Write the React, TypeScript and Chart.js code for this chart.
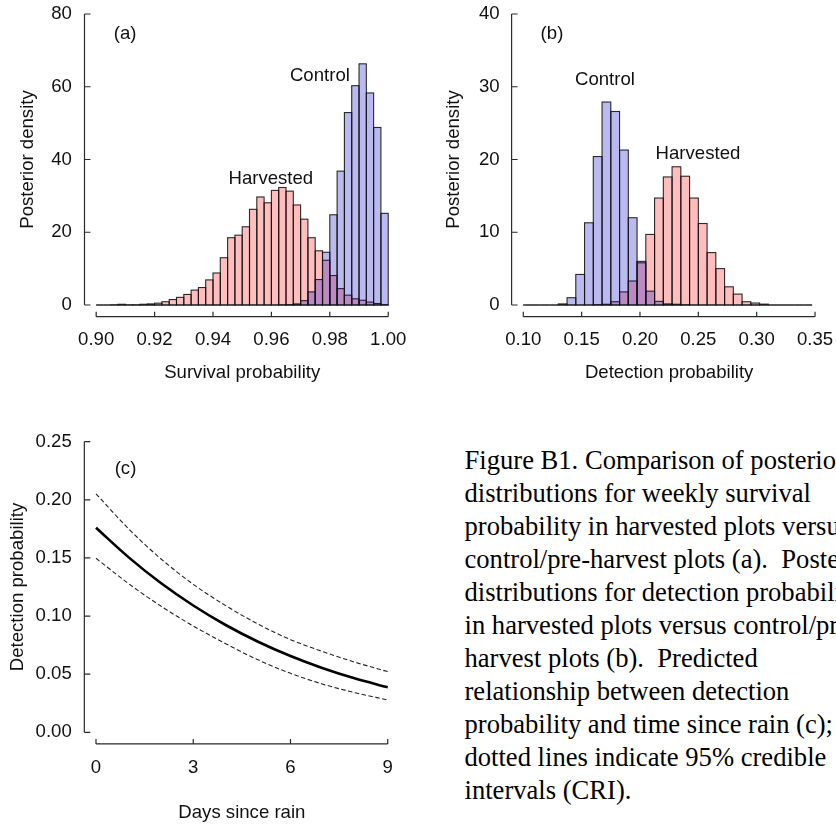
import React, { useEffect, useRef } from 'react';
import { Chart, registerables } from 'chart.js';

Chart.register(...registerables);

// ---------- Panel (a): weekly survival probability (histogram densities) ----------
const SURV_BIN_START = 0.9;
const SURV_BIN_WIDTH = 0.0025;
const SURV_CONTROL = [
  0, 0, 0, 0, 0, 0, 0, 0, 0, 0,
  0, 0, 0, 0, 0, 0, 0, 0, 0, 0,
  0, 0, 0, 0, 0, 0.05, 0.1, 0.3, 1.2, 3.6,
  7.0, 14.5, 24.8, 36.8, 52.9, 60.3, 66.3, 58.3, 48.8, 25.2,
];
const SURV_HARVESTED = [
  0, 0, 0.05, 0.2, 0.05, 0.05, 0.2, 0.3, 0.5, 0.9,
  1.5, 2.1, 2.9, 4.1, 4.8, 6.9, 8.8, 13.0, 18.5, 19.2,
  21.5, 26.3, 29.7, 28.1, 31.5, 32.3, 31.3, 27.5, 23.6, 18.5,
  14.9, 12.3, 8.1, 4.5, 2.7, 1.7, 1.3, 0.8, 0.4, 0.1,
];
const SURV_X_TICKS = [0.9, 0.92, 0.94, 0.96, 0.98, 1.0];
const SURV_Y_TICKS = [0, 20, 40, 60, 80];

// ---------- Panel (b): detection probability (histogram densities) ----------
const DET_BIN_START = 0.1;
const DET_BIN_WIDTH = 0.0075;
const DET_CONTROL = [
  0, 0, 0, 0, 0.15, 1.0, 4.2, 11.3, 20.4, 27.9,
  26.6, 21.3, 12.0, 6.0, 1.9, 0.5, 0.15, 0.1, 0.03, 0,
  0, 0, 0, 0, 0, 0, 0, 0, 0, 0,
  0, 0, 0,
];
const DET_HARVESTED = [
  0, 0, 0, 0, 0, 0, 0, 0, 0.05, 0.1,
  0.45, 1.8, 3.3, 5.8, 9.7, 14.7, 17.6, 19.0, 17.7, 14.7,
  11.2, 7.2, 5.0, 2.5, 1.5, 0.45, 0.27, 0.12, 0, 0,
  0, 0, 0,
];
const DET_X_TICKS = [0.1, 0.15, 0.2, 0.25, 0.3, 0.35];
const DET_Y_TICKS = [0, 10, 20, 30, 40];

// ---------- Panel (c): detection probability vs days since rain ----------
const RAIN_DAYS = [0, 1, 2, 3, 4, 5, 6, 7, 8, 9];
const RAIN_FIT = [0.176, 0.1507, 0.1284, 0.1091, 0.0923, 0.0779, 0.0656, 0.0551, 0.0462, 0.0387];
const RAIN_UPPER = [0.2052, 0.1752, 0.1493, 0.1273, 0.109, 0.0931, 0.0797, 0.0694, 0.0602, 0.0522];
const RAIN_LOWER = [0.1497, 0.128, 0.1086, 0.0915, 0.0762, 0.0623, 0.0507, 0.0414, 0.034, 0.0278];
const RAIN_X_TICKS = [0, 3, 6, 9];
const RAIN_Y_TICKS = [0, 0.05, 0.1, 0.15, 0.2, 0.25];

const CAPTION_LINES = [
  'Figure B1. Comparison of posterior',
  'distributions for weekly survival',
  'probability in harvested plots versus',
  'control/pre-harvest plots (a).  Posterior',
  'distributions for detection probability',
  'in harvested plots versus control/pre-',
  'harvest plots (b).  Predicted',
  'relationship between detection',
  'probability and time since rain (c);',
  'dotted lines indicate 95% credible',
  'intervals (CRI).',
];

// ---------- styling ----------
const FONT_FAMILY = "'Liberation Sans', Arial, Helvetica, sans-serif";
const FONT_SIZE = 18.6;
const INK = '#111111';
const AXIS_INK = '#2a2a2a';
const EDGE_INK = 'rgba(20, 20, 20, 0.9)';
const BLUE_FILL = 'rgba(0, 0, 200, 0.27)';
const RED_FILL = 'rgba(255, 0, 0, 0.26)';

const font = { family: FONT_FAMILY, size: FONT_SIZE };

const binPoints = (start: number, width: number, values: number[]) =>
  values.map((v, i) => ({ x: start + (i + 0.5) * width, y: v }));

const fixed2 = (v: number) => v.toFixed(2);
const plain = (v: number) => String(Math.round(v));

function zeroPadding(s: any) {
  s.paddingLeft = 0;
  s.paddingRight = 0;
  s.paddingTop = 0;
  s.paddingBottom = 0;
}

function xScale(cfg: {
  min: number; max: number; ticks: number[]; fmt: (v: number) => string;
  height: number; tickPad: number; title: string; titlePad: number;
}) {
  return {
    type: 'linear',
    position: 'bottom',
    min: cfg.min,
    max: cfg.max,
    offset: false,
    grid: { display: false, drawTicks: false, offset: false },
    border: { display: false },
    ticks: {
      autoSkip: false, maxRotation: 0, minRotation: 0, padding: cfg.tickPad,
      color: INK, font, callback: (v: any) => cfg.fmt(Number(v)),
    },
    title: {
      display: true, text: cfg.title, color: INK, font,
      padding: { top: 0, bottom: cfg.titlePad },
    },
    afterBuildTicks: (s: any) => { s.ticks = cfg.ticks.map((value) => ({ value })); },
    afterFit: (s: any) => { s.height = cfg.height; zeroPadding(s); },
  };
}

function yScale(cfg: {
  min: number; max: number; ticks: number[]; fmt: (v: number) => string;
  width: number; tickPad: number; title: string; titlePad: number;
}) {
  return {
    type: 'linear',
    position: 'left',
    min: cfg.min,
    max: cfg.max,
    grid: { display: false, drawTicks: false },
    border: { display: false },
    ticks: {
      autoSkip: false, padding: cfg.tickPad, color: INK, font,
      callback: (v: any) => cfg.fmt(Number(v)),
    },
    title: {
      display: true, text: cfg.title, color: INK, font,
      padding: { top: cfg.titlePad, bottom: 0 },
    },
    afterBuildTicks: (s: any) => { s.ticks = cfg.ticks.map((value) => ({ value })); },
    afterFit: (s: any) => { s.width = cfg.width; zeroPadding(s); },
  };
}

// Detached axes with inward tick marks, spanning first to last tick.
const detachedAxes = {
  id: 'detachedAxes',
  afterDatasetsDraw(chart: any) {
    const { ctx, chartArea, scales } = chart;
    const xs = scales.x;
    const ys = scales.y;
    const yPix = ys.ticks.map((t: any) => ys.getPixelForValue(t.value));
    const xPix = xs.ticks.map((t: any) => xs.getPixelForValue(t.value));
    const ax = chartArea.left;
    const ay = chartArea.bottom;
    ctx.save();
    ctx.strokeStyle = AXIS_INK;
    ctx.lineWidth = 1.2;
    ctx.beginPath();
    ctx.moveTo(ax, Math.max(...yPix));
    ctx.lineTo(ax, Math.min(...yPix));
    yPix.forEach((p: number) => { ctx.moveTo(ax, p); ctx.lineTo(ax + 6, p); });
    ctx.moveTo(Math.min(...xPix), ay);
    ctx.lineTo(Math.max(...xPix), ay);
    xPix.forEach((p: number) => { ctx.moveTo(p, ay); ctx.lineTo(p, ay - 5); });
    ctx.stroke();
    ctx.restore();
  },
};

// Outline every histogram cell right after its own dataset is filled.
const histogramEdges = {
  id: 'histogramEdges',
  afterDatasetDraw(chart: any, args: any) {
    const meta = args.meta;
    if (meta.type !== 'bar') return;
    const { ctx } = chart;
    ctx.save();
    ctx.strokeStyle = EDGE_INK;
    ctx.lineWidth = 1.1;
    meta.data.forEach((el: any) => {
      const { x, y, base, width } = el.getProps(['x', 'y', 'base', 'width'], true);
      ctx.strokeRect(x - width / 2, Math.min(y, base), width, Math.abs(base - y));
    });
    ctx.restore();
  },
};

type Note = { text: string; x: number; y: number };

function annotations(notes: Note[]) {
  return {
    id: 'annotations',
    afterDraw(chart: any) {
      const { ctx, scales } = chart;
      ctx.save();
      ctx.fillStyle = INK;
      ctx.font = `${FONT_SIZE}px ${FONT_FAMILY}`;
      ctx.textAlign = 'center';
      ctx.textBaseline = 'middle';
      notes.forEach((n) => {
        ctx.fillText(n.text, scales.x.getPixelForValue(n.x), scales.y.getPixelForValue(n.y));
      });
      ctx.restore();
    },
  };
}

const barDefaults = {
  borderWidth: 0,
  inflateAmount: 0,
  grouped: false,
  barPercentage: 1,
  categoryPercentage: 1,
};

function survivalConfig(): any {
  return {
    type: 'bar',
    data: {
      datasets: [
        { label: 'Control', data: binPoints(SURV_BIN_START, SURV_BIN_WIDTH, SURV_CONTROL), backgroundColor: BLUE_FILL, ...barDefaults },
        { label: 'Harvested', data: binPoints(SURV_BIN_START, SURV_BIN_WIDTH, SURV_HARVESTED), backgroundColor: RED_FILL, ...barDefaults },
      ],
    },
    options: {
      responsive: false,
      animation: false,
      events: [],
      layout: { padding: { left: 0, top: 2.36, right: 20.1, bottom: 0 } },
      plugins: { legend: { display: false }, tooltip: { enabled: false } },
      scales: {
        x: xScale({ min: 0.896, max: 1.004, ticks: SURV_X_TICKS, fmt: fixed2, height: 73.36, tickPad: 12, title: 'Survival probability', titlePad: 6.3 }),
        y: yScale({ min: -3.2, max: 83.2, ticks: SURV_Y_TICKS, fmt: plain, width: 84.5, tickPad: 12.6, title: 'Posterior density', titlePad: 16.5 }),
      },
    },
    plugins: [
      histogramEdges,
      detachedAxes,
      annotations([
        { text: '(a)', x: 0.9099, y: 74.5 },
        { text: 'Control', x: 0.9766, y: 63.0 },
        { text: 'Harvested', x: 0.9598, y: 34.7 },
      ]),
    ],
  };
}

function detectionConfig(): any {
  return {
    type: 'bar',
    data: {
      datasets: [
        { label: 'Control', data: binPoints(DET_BIN_START, DET_BIN_WIDTH, DET_CONTROL), backgroundColor: BLUE_FILL, ...barDefaults },
        { label: 'Harvested', data: binPoints(DET_BIN_START, DET_BIN_WIDTH, DET_HARVESTED), backgroundColor: RED_FILL, ...barDefaults },
      ],
    },
    options: {
      responsive: false,
      animation: false,
      events: [],
      layout: { padding: { left: 0, top: 2.36, right: 9.3, bottom: 0 } },
      plugins: { legend: { display: false }, tooltip: { enabled: false } },
      scales: {
        x: xScale({ min: 0.09, max: 0.36, ticks: DET_X_TICKS, fmt: fixed2, height: 73.36, tickPad: 12, title: 'Detection probability', titlePad: 6.3 }),
        y: yScale({ min: -1.6, max: 41.6, ticks: DET_Y_TICKS, fmt: plain, width: 91.6, tickPad: 12, title: 'Posterior density', titlePad: 23.2 }),
      },
    },
    plugins: [
      histogramEdges,
      detachedAxes,
      annotations([
        { text: '(b)', x: 0.1246, y: 37.25 },
        { text: 'Control', x: 0.17, y: 30.9 },
        { text: 'Harvested', x: 0.2497, y: 20.8 },
      ]),
    ],
  };
}

function rainConfig(): any {
  const pts = (ys: number[]) => RAIN_DAYS.map((d, i) => ({ x: d, y: ys[i] }));
  const curve = { pointRadius: 0, fill: false, cubicInterpolationMode: 'monotone' };
  return {
    type: 'line',
    data: {
      datasets: [
        { label: 'Upper 95% CRI', data: pts(RAIN_UPPER), borderColor: '#222', borderWidth: 1.1, borderDash: [4.5, 2.5], ...curve },
        { label: 'Lower 95% CRI', data: pts(RAIN_LOWER), borderColor: '#222', borderWidth: 1.1, borderDash: [4.5, 2.5], ...curve },
        { label: 'Posterior mean', data: pts(RAIN_FIT), borderColor: '#000', borderWidth: 2.6, ...curve },
      ],
    },
    options: {
      responsive: false,
      animation: false,
      events: [],
      layout: { padding: { left: 0, top: 10.1, right: 20.6, bottom: 0 } },
      plugins: { legend: { display: false }, tooltip: { enabled: false } },
      scales: {
        x: xScale({ min: -0.36, max: 9.36, ticks: RAIN_X_TICKS, fmt: plain, height: 80.1, tickPad: 12.4, title: 'Days since rain', titlePad: 0.3 }),
        y: yScale({ min: -0.01, max: 0.26, ticks: RAIN_Y_TICKS, fmt: fixed2, width: 84.33, tickPad: 12.6, title: 'Detection probability', titlePad: 6.8 }),
      },
    },
    plugins: [
      detachedAxes,
      annotations([{ text: '(c)', x: 0.91, y: 0.2265 }]),
    ],
  };
}

function ChartPanel(props: { left: number; top: number; width: number; height: number; build: () => any }) {
  const ref = useRef<HTMLCanvasElement | null>(null);
  useEffect(() => {
    if (!ref.current) return;
    const chart = new Chart(ref.current, props.build());
    return () => chart.destroy();
  }, []);
  return (
    <canvas
      ref={ref}
      width={props.width}
      height={props.height}
      style={{ position: 'absolute', left: props.left, top: props.top, width: props.width, height: props.height }}
    />
  );
}

export default function App() {
  return (
    <div
      style={{
        position: 'fixed', left: 0, top: 0, width: 836, height: 824,
        overflow: 'hidden', background: '#ffffff',
      }}
    >
      <ChartPanel left={0} top={0} width={420} height={390} build={survivalConfig} />
      <ChartPanel left={420} top={0} width={416} height={390} build={detectionConfig} />
      <ChartPanel left={0} top={420} width={420} height={404} build={rainConfig} />
      <div
        style={{
          position: 'absolute', left: 464.5, top: 444,
          fontFamily: "'Liberation Serif', 'Times New Roman', serif",
          fontSize: 26.6, lineHeight: '33px', color: '#000', whiteSpace: 'pre',
        }}
      >
        {CAPTION_LINES.map((line, i) => (
          <div key={i}>{line}</div>
        ))}
      </div>
    </div>
  );
}
